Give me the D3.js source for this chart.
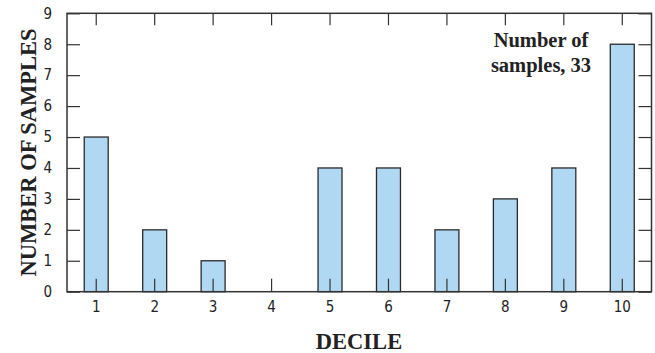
<!DOCTYPE html>
<html>
<head>
<meta charset="utf-8">
<script src="https://cdn.jsdelivr.net/npm/d3@7"></script>
<style>
  body { margin: 0; background: #fff; }
  .title { font-family: "Liberation Serif", "Times New Roman", serif; font-weight: bold; fill: #222; }
</style>
</head>
<body>
<div id="chart"></div>
<script>
const deciles = [1, 2, 3, 4, 5, 6, 7, 8, 9, 10];
const samples = [5, 2, 1, 0, 4, 4, 2, 3, 4, 8];
const yTicks = [0, 1, 2, 3, 4, 5, 6, 7, 8, 9];
const note = ['Number of', 'samples, 33'];

const w = 655;
const h = 353;
const plotLeft = 67, plotRight = 651.5, plotTop = 13.3, plotBottom = 291.7;

const svg = d3.select('#chart')
              .append('svg')
              .attr('width', w)
              .attr('height', h);

const xScale = d3.scaleBand()
                 .domain(deciles)
                 .range([plotLeft, plotRight])
                 .paddingInner(0.59)
                 .paddingOuter(0.295);

const xBand = d3.scaleBand()
                .domain(deciles)
                .range([plotLeft, plotRight]);

const yScale = d3.scaleLinear()
                 .domain([0, 9])
                 .range([plotBottom, plotTop]);

// bars
svg.selectAll('rect.bar')
   .data(deciles)
   .enter()
   .append('rect')
   .attr('class', 'bar')
   .attr('x', d => xScale(d))
   .attr('y', (d, i) => yScale(samples[i]))
   .attr('width', xScale.bandwidth())
   .attr('height', (d, i) => plotBottom - yScale(samples[i]))
   .attr('fill', '#b1d8f3')
   .attr('stroke', '#2a2a2a')
   .attr('stroke-width', 1.3);

// axes with inward ticks
const styleAxis = g => {
    g.attr('font-family', '"DejaVu Sans Condensed", "Liberation Sans Narrow", sans-serif')
     .attr('font-size', 15);
    g.select('.domain').remove();
    g.selectAll('.tick line').attr('stroke', '#333').attr('stroke-width', 1.2);
    g.selectAll('.tick text').attr('fill', '#222');
};

svg.append('g')
   .attr('transform', `translate(0, ${plotBottom})`)
   .call(d3.axisBottom(xBand).tickSizeInner(-13).tickSizeOuter(0).tickPadding(10))
   .call(styleAxis);

svg.append('g')
   .attr('transform', `translate(0, ${plotTop})`)
   .call(d3.axisTop(xBand).tickSizeInner(-12).tickSizeOuter(0).tickFormat(''))
   .call(styleAxis);

svg.append('g')
   .attr('transform', `translate(${plotLeft}, 0)`)
   .call(d3.axisLeft(yScale).tickValues(yTicks).tickSizeInner(-13).tickSizeOuter(0).tickPadding(15))
   .call(styleAxis);

svg.append('g')
   .attr('transform', `translate(${plotRight}, 0)`)
   .call(d3.axisRight(yScale).tickValues(yTicks).tickSizeInner(-13).tickSizeOuter(0).tickFormat(''))
   .call(styleAxis);

// frame
svg.append('rect')
   .attr('x', plotLeft)
   .attr('y', plotTop)
   .attr('width', plotRight - plotLeft)
   .attr('height', plotBottom - plotTop)
   .attr('fill', 'none')
   .attr('stroke', '#333')
   .attr('stroke-width', 1.5);

// titles
svg.append('text')
   .attr('class', 'title')
   .attr('transform', `translate(36, ${(plotTop + plotBottom) / 2}) rotate(-90)`)
   .attr('text-anchor', 'middle')
   .style('font-size', '22.5px')
   .text('NUMBER OF SAMPLES');

svg.append('text')
   .attr('class', 'title')
   .attr('x', 359)
   .attr('y', 349)
   .attr('text-anchor', 'middle')
   .style('font-size', '22.5px')
   .text('DECILE');

svg.selectAll('text.note')
   .data(note)
   .enter()
   .append('text')
   .attr('class', 'title note')
   .attr('x', 541)
   .attr('y', (d, i) => 47 + i * 24.5)
   .attr('text-anchor', 'middle')
   .style('font-size', '20.5px')
   .text(d => d);
</script>
</body>
</html>
